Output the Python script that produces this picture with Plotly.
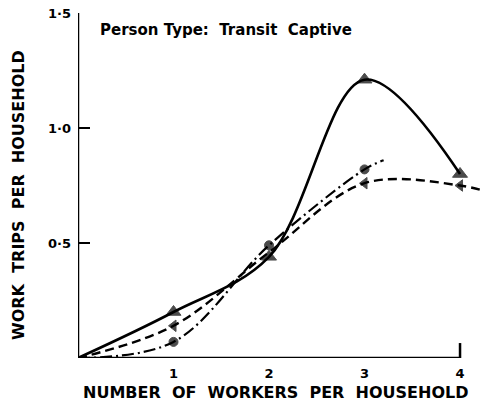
import plotly.graph_objects as go

# values (x = number of workers per household)
solid_x = [0, 1, 2, 3, 4]
solid_y = [0, 0.20, 0.44, 1.21, 0.80]
solid_marked = [False, True, True, True, True]

dashed_x = [0, 1, 2, 3, 4, 4.3]
dashed_y = [0, 0.14, 0.46, 0.76, 0.75, 0.72]
dashed_marked = [False, True, False, True, True, False]

dashdot_x = [0, 1, 2, 3, 3.2]
dashdot_y = [0, 0.07, 0.49, 0.82, 0.86]
dashdot_marked = [False, True, True, True, False]

x_ticks = [1, 2, 3, 4]
y_ticks = [0.5, 1.0, 1.5]
y_ticktext = ["0·5", "1·0", "1·5"]

title_text = "Person Type:  Transit  Captive"
x_title = "NUMBER  OF  WORKERS  PER  HOUSEHOLD"
y_title = "WORK  TRIPS  PER  HOUSEHOLD"

FONT = "DejaVu Sans"
INK = "#000000"


def sizes(flags, size):
    return [size if f else 0 for f in flags]


fig = go.Figure()

fig.add_trace(go.Scatter(
    x=solid_x, y=solid_y, mode="lines+markers",
    line=dict(color=INK, width=2.6, shape="spline", smoothing=1.0),
    marker=dict(symbol="triangle-up", size=sizes(solid_marked, 13), color=INK,
                line=dict(color=INK, width=1)),
    showlegend=False, cliponaxis=True
))
fig.add_trace(go.Scatter(
    x=dashed_x, y=dashed_y, mode="lines+markers",
    line=dict(color=INK, width=2.4, shape="spline", smoothing=1.0, dash="9px,5px"),
    marker=dict(symbol="triangle-left", size=sizes(dashed_marked, 10), color=INK,
                line=dict(color=INK, width=1)),
    showlegend=False, cliponaxis=True
))
fig.add_trace(go.Scatter(
    x=dashdot_x, y=dashdot_y, mode="lines+markers",
    line=dict(color=INK, width=2.2, shape="spline", smoothing=1.0, dash="12px,4px,2px,4px"),
    marker=dict(symbol="circle", size=sizes(dashdot_marked, 9), color=INK,
                line=dict(color=INK, width=1)),
    showlegend=False, cliponaxis=True
))

# axis frame: y line, x line ending with an upward tick at 4
fig.add_shape(type="line", x0=0, x1=0, y0=0, y1=1.5, line=dict(color=INK, width=2.5))
fig.add_shape(type="line", x0=0, x1=4, y0=0, y1=0, line=dict(color=INK, width=2.5))
fig.add_shape(type="line", x0=4, x1=4, y0=0, y1=0.065, line=dict(color=INK, width=2.5))

fig.add_annotation(
    text=f"<b>{title_text}</b>", xref="paper", yref="paper",
    x=0.05, y=0.952, xanchor="left", yanchor="middle", showarrow=False,
    font=dict(family=FONT, size=15, color=INK)
)
fig.add_annotation(
    text=f"<b>{x_title}</b>", xref="paper", yref="paper",
    x=0.488, y=-0.101, xanchor="center", yanchor="middle", showarrow=False,
    font=dict(family=FONT, size=16, color=INK)
)
fig.add_annotation(
    text=f"<b>{y_title}</b>", xref="paper", yref="paper", textangle=-90,
    x=-0.149, y=0.472, xanchor="center", yanchor="middle", showarrow=False,
    font=dict(family=FONT, size=16, color=INK)
)

fig.update_layout(
    width=482, height=407,
    margin=dict(l=78, r=0, t=13, b=49),
    paper_bgcolor="white", plot_bgcolor="white",
    font=dict(family=FONT, color=INK),
    xaxis=dict(
        range=[0, 4.23], showgrid=False, zeroline=False, showline=False,
        tickmode="array", tickvals=x_ticks, ticktext=[f"<b>{t}</b>" for t in x_ticks],
        ticks="", ticklabelstandoff=6, tickfont=dict(size=13, family=FONT, color=INK)
    ),
    yaxis=dict(
        range=[0, 1.5], showgrid=False, zeroline=False, showline=False,
        tickmode="array", tickvals=y_ticks, ticktext=[f"<b>{t}</b>" for t in y_ticktext],
        ticks="inside", ticklen=12, tickwidth=2.2, tickcolor=INK,
        ticklabelstandoff=6, tickfont=dict(size=13, family=FONT, color=INK)
    ),
)

fig.write_html("out.html", config={"displayModeBar": False},
               post_script="document.body.style.margin='0';")
